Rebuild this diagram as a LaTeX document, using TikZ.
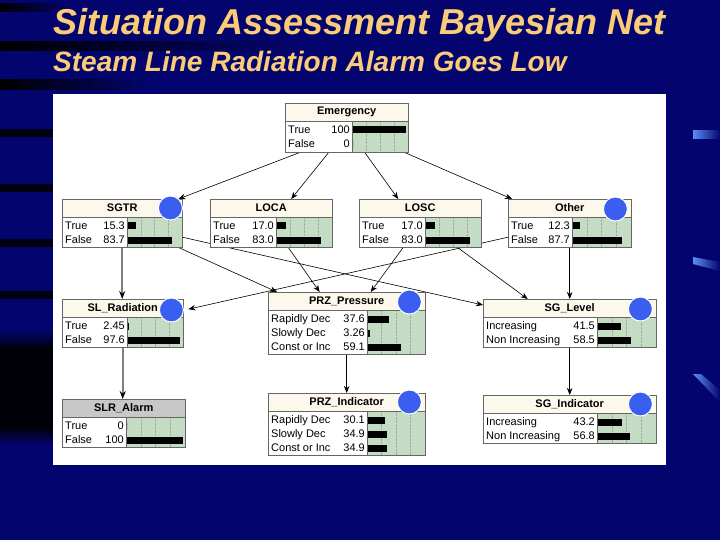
\documentclass[tikz,border=0pt]{standalone}
\usepackage{fontspec}
\setmainfont{Liberation Sans}
\usetikzlibrary{arrows.meta}
\pgfdeclarelayer{back}
\pgfdeclarelayer{links}
\pgfsetlayers{back,links,main}

\definecolor{slideblue}{RGB}{4,4,110}
\definecolor{titleorange}{RGB}{250,204,120}
\definecolor{headcream}{RGB}{253,248,236}
\definecolor{headgray}{RGB}{200,200,200}
\definecolor{bargreen}{RGB}{196,220,196}
\definecolor{evblue}{RGB}{58,95,240}
\definecolor{streakblue}{RGB}{90,140,245}

\tikzset{
  boxline/.style={draw=black!60, line width=0.7pt},
  rowtext/.style={font=\fontsize{11}{12}\selectfont, inner sep=0pt},
  headtext/.style={font=\fontsize{11}{12}\selectfont\bfseries, inner sep=0pt},
  gridline/.style={draw=black!35, densely dotted, line width=0.4pt},
  link/.style={->, line width=0.6pt},
  graylink/.style={-{Stealth[length=8pt,width=6pt,color=black]}, draw=black!50, line width=2pt},
  evidence/.style={fill=evblue, draw=white, line width=1pt},
  titletext/.style={text=titleorange, font=\fontsize{36}{40}\selectfont\bfseries\itshape, inner sep=0pt},
  subtext/.style={text=titleorange, font=\fontsize{28}{32}\selectfont\bfseries\itshape, inner sep=0pt},
}

% #1 name, #2 corner, #3 width, #4 height, #5 label width, #6 header colour, #7 title, #8 rows
\newcommand{\bayesnode}[8]{
  \node[minimum width=#3pt, minimum height=#4pt, inner sep=0pt, anchor=north west] (#1) at #2 {};
  \fill[white] (#1.north west) rectangle (#1.south east);
  \fill[bargreen] ([xshift=#5pt, yshift=-18pt]#1.north west) rectangle (#1.south east);
  \foreach \k in {1,2,3}
    \draw[gridline] ([xshift={(#5+(#3-#5)*\k/4)*1pt}, yshift=-18pt]#1.north west)
      -- ([xshift={(#5+(#3-#5)*\k/4)*1pt}]#1.south west);
  \fill[#6] (#1.north west) rectangle ([yshift=-18pt]#1.north east);
  \node[headtext] at ([yshift=-9pt]#1.north) {#7};
  \foreach \lab/\val [count=\i] in {#8} {
    \node[rowtext, anchor=base west] at ([xshift=3pt, yshift={-(16.8+14*\i)*1pt}]#1.north west) {\lab};
    \node[rowtext, anchor=base east] at ([xshift={(#5-2)*1pt}, yshift={-(16.8+14*\i)*1pt}]#1.north west) {\val};
    \fill ([xshift={(#5+1)*1pt}, yshift={-(9.5+14*\i)*1pt}]#1.north west) rectangle ++({(#3-#5-3)*\val/100}, 7);
  }
  \draw[boxline] ([yshift=-18pt]#1.north west) -- ([yshift=-18pt]#1.north east);
  \draw[boxline] ([xshift=#5pt, yshift=-18pt]#1.north west) -- ([xshift=#5pt]#1.south west);
  \draw[boxline] (#1.north west) rectangle (#1.south east);
}

\begin{document}
\begin{tikzpicture}[x=1pt, y=-1pt, >={Stealth[length=7pt,width=5.5pt]}]
\useasboundingbox (0,0) rectangle (720,540);

% slide background
\begin{pgfonlayer}{back}
\fill[slideblue] (0,0) rectangle (720,540);
\shade[left color=black, right color=slideblue] (0,4) rectangle (70,12);
\shade[left color=black, right color=slideblue] (0,42) rectangle (300,51);
\shade[left color=black, right color=slideblue] (0,80) rectangle (150,90);
\foreach \y in {129,184,239,291}
  \fill[black!85!slideblue] (0,\y) rectangle (53,\y+8);
\shade[top color=slideblue, bottom color=black] (0,330) rectangle (53,350);
\fill[black!92!slideblue] (0,350) rectangle (53,425);
\shade[top color=black, bottom color=slideblue] (0,425) rectangle (53,445);
\shade[left color=streakblue, right color=slideblue] (693,131) rectangle (720,139);
\shade[left color=streakblue, right color=slideblue] (693,257) -- (720,262) -- (720,271) -- (693,264) -- cycle;
\shade[left color=streakblue, right color=slideblue] (693,374) -- (701,374) -- (720,390) -- (720,402) -- cycle;
\fill[white] (53,94) rectangle (666,465);
\end{pgfonlayer}

\node[titletext, anchor=base west] (title) at (53,35) {Situation Assessment Bayesian Net};
\node[subtext, anchor=base west] (subtitle) at (53,72) {Steam Line Radiation Alarm Goes Low};

\bayesnode{emerg}{(285,103)}{123}{49}{67}{headcream}{Emergency}{True/100, False/0}
\bayesnode{sgtr}{(62,199)}{120}{48}{65}{headcream}{SGTR}{True/15.3, False/83.7}
\bayesnode{loca}{(210,199)}{122}{48}{66}{headcream}{LOCA}{True/17.0, False/83.0}
\bayesnode{losc}{(359,199)}{122}{48}{66}{headcream}{LOSC}{True/17.0, False/83.0}
\bayesnode{other}{(508,199)}{123}{48}{64}{headcream}{Other}{True/12.3, False/87.7}
\bayesnode{slrad}{(62,299)}{121}{48}{65}{headcream}{SL\_Radiation}{True/2.45, False/97.6}
\bayesnode{prz}{(268,292)}{157}{62}{99}{headcream}{PRZ\_Pressure}{Rapidly Dec/37.6, Slowly Dec/3.26, Const or Inc/59.1}
\bayesnode{sglev}{(483,299)}{173}{48}{114}{headcream}{SG\_Level}{Increasing/41.5, Non Increasing/58.5}
\bayesnode{slralarm}{(62,399)}{123}{48}{64}{headgray}{SLR\_Alarm}{True/0, False/100}
\bayesnode{przind}{(268,393)}{157}{62}{99}{headcream}{PRZ\_Indicator}{Rapidly Dec/30.1, Slowly Dec/34.9, Const or Inc/34.9}
\bayesnode{sgind}{(483,395)}{173}{48}{114}{headcream}{SG\_Indicator}{Increasing/43.2, Non Increasing/56.8}

\begin{pgfonlayer}{links}
\draw[link] ([xshift=15pt]emerg.south west) -- ([xshift=-4pt]sgtr.north east);
\draw[link] ([xshift=-18pt]emerg.south) -- ([xshift=20pt]loca.north);
\draw[link] ([xshift=18pt]emerg.south) -- ([xshift=-22pt]losc.north);
\draw[link] ([xshift=-4pt]emerg.south east) -- ([xshift=4pt]other.north west);
\draw[graylink] (sgtr.south) -- (sgtr.south |- slrad.north);
\draw[link] ([xshift=-4pt]sgtr.south east) -- ([xshift=9pt]prz.north west);
\draw[link] ([yshift=-14pt]sgtr.east) -- ([yshift=-6pt]sglev.north west);
\draw[link] ([xshift=17pt]loca.south) -- ([xshift=-27pt]prz.north);
\draw[link] ([xshift=-17pt]losc.south) -- ([xshift=24pt]prz.north);
\draw[link] ([xshift=-24pt]losc.south east) -- ([xshift=-42pt]sglev.north);
\draw[link] ([yshift=-14pt]other.west) -- ([xshift=5pt, yshift=14pt]slrad.east);
\draw[link] (other.south) -- (other.south |- sglev.north);
\draw[link] (prz.south) -- (przind.north);
\draw[graylink] (slrad.south) -- (slrad.south |- slralarm.north);
\draw[link] (sglev.south) -- (sgind.north);
\end{pgfonlayer}

% observed nodes
\foreach \n/\dx/\dy in {sgtr/12/9, other/16/10, slrad/12/11, prz/16/10, sglev/16/10, przind/16/9, sgind/16/9}
  \fill[evidence] ([xshift=-\dx pt, yshift=-\dy pt]\n.north east) circle (12);
\end{tikzpicture}
\end{document}
